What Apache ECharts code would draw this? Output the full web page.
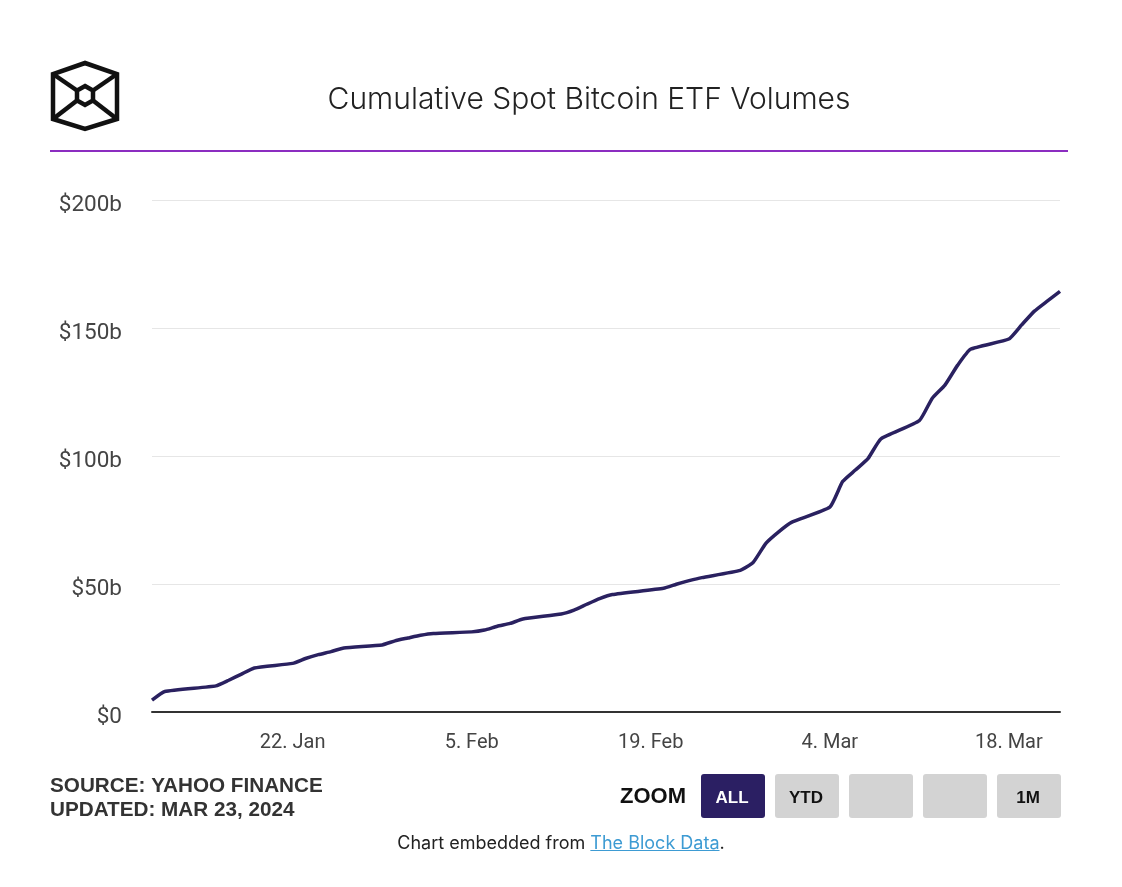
<!DOCTYPE html>
<html>
<head>
<meta charset="utf-8">
<script src="https://cdn.jsdelivr.net/npm/echarts@6/dist/echarts.min.js"></script>
<style>
  html, body { margin: 0; padding: 0; background: #ffffff; }
  #chart { width: 1122px; height: 887px; }
  #footer { position: absolute; left: 0; top: 832px; width: 1122px; text-align: center;
    font-family: Inter, "Noto Sans", sans-serif; font-size: 18px; color: #222; }
  #footer a { color: #3d9bd3; text-decoration: underline; }
</style>
</head>
<body>
<div id="chart"></div>
<div id="footer">Chart embedded from <a>The Block Data</a>.</div>
<script>
// ---- data ----
const titleText = 'Cumulative Spot Bitcoin ETF Volumes';
const dates = [
  '2024-01-11','2024-01-12','2024-01-16','2024-01-17','2024-01-18','2024-01-19',
  '2024-01-22','2024-01-23','2024-01-24','2024-01-25','2024-01-26',
  '2024-01-29','2024-01-30','2024-01-31','2024-02-01','2024-02-02',
  '2024-02-05','2024-02-06','2024-02-07','2024-02-08','2024-02-09',
  '2024-02-12','2024-02-13','2024-02-14','2024-02-15','2024-02-16',
  '2024-02-20','2024-02-21','2024-02-22','2024-02-23',
  '2024-02-26','2024-02-27','2024-02-28','2024-02-29','2024-03-01',
  '2024-03-04','2024-03-05','2024-03-06','2024-03-07','2024-03-08',
  '2024-03-11','2024-03-12','2024-03-13','2024-03-14','2024-03-15',
  '2024-03-18','2024-03-19','2024-03-20','2024-03-21','2024-03-22'
];
const cumulativeVolume = [
  4.6, 8.0, 10.2, 12.4, 14.8, 17.2,
  19.0, 20.9, 22.4, 23.6, 25.0,
  26.2, 27.8, 28.9, 30.0, 30.7,
  31.3, 32.0, 33.5, 34.6, 36.3,
  38.3, 39.8, 42.1, 44.3, 45.9,
  48.3, 49.9, 51.3, 52.5,
  55.3, 58.4, 65.9, 70.4, 74.1,
  80.0, 90.0, 94.5, 99.1, 106.7,
  113.8, 122.5, 127.7, 135.5, 141.7,
  145.7, 151.2, 156.6, 160.5, 164.3
];
const tickDates = ['2024-01-22','2024-02-05','2024-02-19','2024-03-04','2024-03-18'];
const tickLabels = ['22. Jan','5. Feb','19. Feb','4. Mar','18. Mar'];
const xStart = '2024-01-11';
const xEnd = '2024-03-22';
const yTicks = [0, 50, 100, 150, 200];
const sourceLines = ['SOURCE: YAHOO FINANCE', 'UPDATED: MAR 23, 2024'];
const zoomButtons = ['ALL', 'YTD', '', '', '1M'];

// ---- helpers: x is measured in days since the first date ----
function ts(s) { const p = s.split('-').map(Number); return Date.UTC(p[0], p[1] - 1, p[2]); }
const DAY = 86400000;
const t0 = ts(xStart);
function dayIndex(s) { return Math.round((ts(s) - t0) / DAY); }
const seriesData = dates.map((d, i) => [dayIndex(d), cumulativeVolume[i]]);
const tickDays = tickDates.map(dayIndex);

const chart = echarts.init(document.getElementById('chart'), null, { renderer: 'canvas' });

const buttonGraphics = zoomButtons.map((lbl, i) => ({
  type: 'group',
  left: 701 + i * 74, top: 774,
  children: [
    { type: 'rect', shape: { x: 0, y: 0, width: 64, height: 44, r: 3 },
      style: { fill: i === 0 ? '#2b1f63' : '#d3d3d3' } },
    { type: 'text', x: 31, y: 24,
      style: { text: lbl, fill: i === 0 ? '#ffffff' : '#111111',
        font: 'bold 17px "Liberation Sans", Arial, sans-serif', align: 'center', verticalAlign: 'middle' } }
  ]
}));

const logoStroke = { fill: 'none', stroke: '#111', lineWidth: 4.5, lineJoin: 'miter' };

const option = {
  backgroundColor: '#ffffff',
  animation: false,
  title: {
    text: titleText,
    left: 584, top: 80, textAlign: 'center',
    textStyle: { fontFamily: 'Inter, "Noto Sans", sans-serif', fontSize: 30, fontWeight: 300, color: '#222' }
  },
  grid: { left: 152, right: 62, top: 200, bottom: 175, containLabel: false },
  xAxis: {
    type: 'value',
    min: 0, max: dayIndex(xEnd), interval: 1,
    axisLine: { show: true, onZero: false, lineStyle: { color: '#333333', width: 2 } },
    axisTick: { show: false },
    splitLine: { show: false },
    axisLabel: {
      interval: 0,
      showMinLabel: true, showMaxLabel: true,
      formatter: function (v) { const k = tickDays.indexOf(Math.round(v)); return k >= 0 ? tickLabels[k] : ''; },
      fontFamily: 'Roboto, sans-serif', fontSize: 20, color: '#444', margin: 21
    }
  },
  yAxis: {
    type: 'value',
    min: yTicks[0], max: yTicks[yTicks.length - 1], interval: 50,
    axisLine: { show: false },
    axisTick: { show: false },
    splitLine: { lineStyle: { color: '#e6e6e6', width: 1 } },
    axisLabel: {
      formatter: function (v) { return v === 0 ? '$0' : '$' + v + 'b'; },
      fontFamily: 'Roboto, sans-serif', fontSize: 22.5, color: '#444', margin: 30,
      verticalAlign: 'top', lineHeight: 10
    }
  },
  series: [{
    type: 'line',
    data: seriesData,
    showSymbol: false,
    smooth: 0.15,
    lineStyle: { color: '#2a2160', width: 3.5 },
    itemStyle: { color: '#2a2160' }
  }],
  graphic: [
    // logo
    { type: 'polygon', shape: { points: [[85,63],[117,74],[117,119],[85,129],[53,119],[53,74]] }, style: logoStroke },
    { type: 'polygon', shape: { points: [[85,86],[93,90.5],[93,100.5],[85,105],[77,100.5],[77,90.5]] }, style: logoStroke },
    { type: 'line', shape: { x1: 53, y1: 74, x2: 77, y2: 90.5 }, style: logoStroke },
    { type: 'line', shape: { x1: 117, y1: 74, x2: 93, y2: 90.5 }, style: logoStroke },
    { type: 'line', shape: { x1: 53, y1: 119, x2: 77, y2: 100.5 }, style: logoStroke },
    { type: 'line', shape: { x1: 117, y1: 119, x2: 93, y2: 100.5 }, style: logoStroke },
    // purple rule
    { type: 'rect', shape: { x: 50, y: 150, width: 1018, height: 2 }, style: { fill: '#8b2dc0' } },
    // source text
    { type: 'text', left: 50, top: 776,
      style: { text: sourceLines[0], fill: '#333', font: 'bold 20.7px "Liberation Sans", Arial, sans-serif' } },
    { type: 'text', left: 50, top: 800,
      style: { text: sourceLines[1], fill: '#333', font: 'bold 20.7px "Liberation Sans", Arial, sans-serif' } },
    { type: 'text', left: 620, top: 786,
      style: { text: 'ZOOM', fill: '#111', font: 'bold 22px "Liberation Sans", Arial, sans-serif' } }
  ].concat(buttonGraphics)
};
chart.setOption(option);
</script>
</body>
</html>
